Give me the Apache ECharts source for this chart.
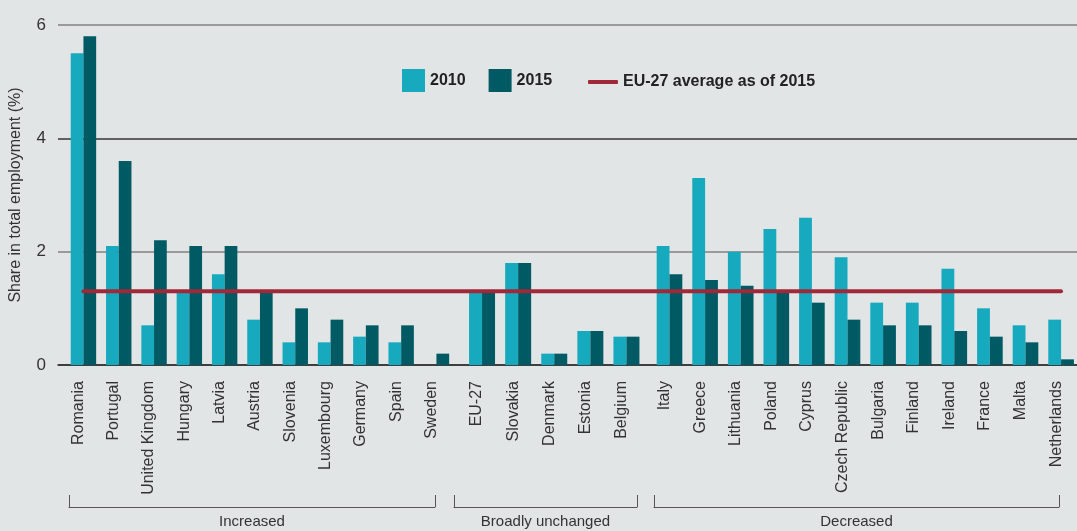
<!DOCTYPE html>
<html>
<head>
<meta charset="utf-8">
<script src="https://cdn.jsdelivr.net/npm/echarts@6.0.0/dist/echarts.min.js"></script>
<style>
  html, body { margin: 0; padding: 0; background: #e1e5e6; }
  #chart { width: 1077px; height: 531px; }
</style>
</head>
<body>
<div id="chart"></div>
<script>
// groups of countries, in the order they appear
const increasedCountries = ["Romania", "Portugal", "United Kingdom", "Hungary", "Latvia", "Austria", "Slovenia", "Luxembourg", "Germany", "Spain", "Sweden"];
const increased2010 = [5.5, 2.1, 0.7, 1.3, 1.6, 0.8, 0.4, 0.4, 0.5, 0.4, 0];
const increased2015 = [5.8, 3.6, 2.2, 2.1, 2.1, 1.3, 1.0, 0.8, 0.7, 0.7, 0.2];

const unchangedCountries = ["EU-27", "Slovakia", "Denmark", "Estonia", "Belgium"];
const unchanged2010 = [1.3, 1.8, 0.2, 0.6, 0.5];
const unchanged2015 = [1.3, 1.8, 0.2, 0.6, 0.5];

const decreasedCountries = ["Italy", "Greece", "Lithuania", "Poland", "Cyprus", "Czech Republic", "Bulgaria", "Finland", "Ireland", "France", "Malta", "Netherlands"];
const decreased2010 = [2.1, 3.3, 2.0, 2.4, 2.6, 1.9, 1.1, 1.1, 1.7, 1.0, 0.7, 0.8];
const decreased2015 = [1.6, 1.5, 1.4, 1.3, 1.1, 0.8, 0.7, 0.7, 0.6, 0.5, 0.4, 0.1];

const euAverage2015 = [1.3, 1.3];
const groupLabels = ["Increased", "Broadly unchanged", "Decreased"];
const yTicks = { min: 0, max: 6, interval: 2 };

const colors = {
  y2010: "#17a9be",
  y2015: "#005a63",
  red: "#a12838",
  ink: "#333333",
  grid: "#808080",
  bg: "#e1e5e6"
};

const labelFont = "'Liberation Sans', Arial, sans-serif";

const plot = { top: 25, height: 340, outerBoundsMode: "none" };

// bar groups sit in their own grids so the gaps between groups match
const barGrids = [
  { left: 65.8, width: 388.3 },
  { left: 464, width: 180.5 },
  { left: 651.7, width: 427.2 }
];
// the brackets under the labels are the bottom edges of these grids
const bracketGrids = [
  { left: 69, width: 366 },
  { left: 454, width: 183 },
  { left: 654, width: 405 }
];

const groups = [
  { names: increasedCountries, a: increased2010, b: increased2015 },
  { names: unchangedCountries, a: unchanged2010, b: unchanged2015 },
  { names: decreasedCountries, a: decreased2010, b: decreased2015 }
];

const grid = [
  { left: 58, right: 0, ...plot },
  ...barGrids.map(g => ({ ...g, ...plot })),
  { left: 83.5, width: 977.5, ...plot },
  ...bracketGrids.map(g => ({ ...g, top: 25, height: 482, outerBoundsMode: "none" }))
];

const hiddenY = i => ({ type: "value", gridIndex: i, ...yTicks, show: false });

const xAxis = [
  {
    type: "value", gridIndex: 0, min: 0, max: 1,
    axisLine: { show: true, lineStyle: { color: colors.ink, width: 1.5 } },
    axisTick: { show: false }, axisLabel: { show: false }, splitLine: { show: false }
  },
  ...groups.map((g, i) => ({
    type: "category", gridIndex: i + 1, data: g.names,
    axisLine: { show: false }, axisTick: { show: false },
    axisLabel: {
      interval: 0, rotate: 90, margin: 16, fontSize: 16, color: colors.ink,
      fontFamily: labelFont, verticalAlign: "bottom", lineHeight: 10
    }
  })),
  { type: "category", gridIndex: 4, data: ["a", "b"], boundaryGap: false, show: false },
  ...groupLabels.map((name, i) => ({
    type: "value", gridIndex: i + 5, min: 0, max: 1, interval: 1,
    position: "bottom",
    name, nameLocation: "middle", nameGap: 7,
    nameTextStyle: { fontSize: 15, color: colors.ink, fontFamily: labelFont, verticalAlign: "top" },
    axisLine: { show: true, onZero: false, lineStyle: { color: "#555555", width: 1 } },
    axisTick: { show: true, inside: true, length: 12, lineStyle: { color: "#555555" } },
    axisLabel: { show: false }, splitLine: { show: false }
  }))
];

const yAxis = [
  {
    type: "value", gridIndex: 0, ...yTicks,
    name: "Share in total employment (%)", nameLocation: "middle", nameGap: 34,
    nameTextStyle: { fontSize: 16, color: colors.ink, fontFamily: labelFont },
    axisLine: { show: false }, axisTick: { show: false },
    axisLabel: { fontSize: 17, color: colors.ink, fontFamily: labelFont, margin: 12 },
    splitLine: { lineStyle: { color: [colors.ink, colors.grid, colors.ink, colors.grid], width: 1.5 } }
  },
  ...[1, 2, 3, 4, 5, 6, 7].map(hiddenY)
];

const series = [];
groups.forEach((g, i) => {
  series.push({
    name: "2010", type: "bar", xAxisIndex: i + 1, yAxisIndex: i + 1, data: g.a,
    itemStyle: { color: colors.y2010 }, barGap: "0%", barCategoryGap: "28%"
  });
  series.push({
    name: "2015", type: "bar", xAxisIndex: i + 1, yAxisIndex: i + 1, data: g.b,
    itemStyle: { color: colors.y2015 }, barGap: "0%", barCategoryGap: "28%"
  });
});
series.push({
  name: "EU-27 average as of 2015", type: "line", xAxisIndex: 4, yAxisIndex: 4,
  data: euAverage2015, symbol: "none", z: 10,
  lineStyle: { color: colors.red, width: 4, cap: "round" }, itemStyle: { color: colors.red }
});

const legendText = { fontSize: 16, fontWeight: "bold", color: "#222222", fontFamily: labelFont };

const chart = echarts.init(document.getElementById("chart"), null, { renderer: "canvas" });
chart.setOption({
  backgroundColor: colors.bg,
  animation: false,
  grid,
  xAxis,
  yAxis,
  series,
  legend: [
    {
      data: ["2010", "2015"], left: 402, top: 69, padding: 0, itemWidth: 23, itemHeight: 23, itemGap: 23,
      icon: "rect", textStyle: legendText
    },
    {
      data: [{ name: "EU-27 average as of 2015", icon: "roundRect" }], left: 588, top: 74, padding: 0,
      itemWidth: 30, itemHeight: 4, textStyle: legendText
    }
  ]
});
</script>
</body>
</html>
